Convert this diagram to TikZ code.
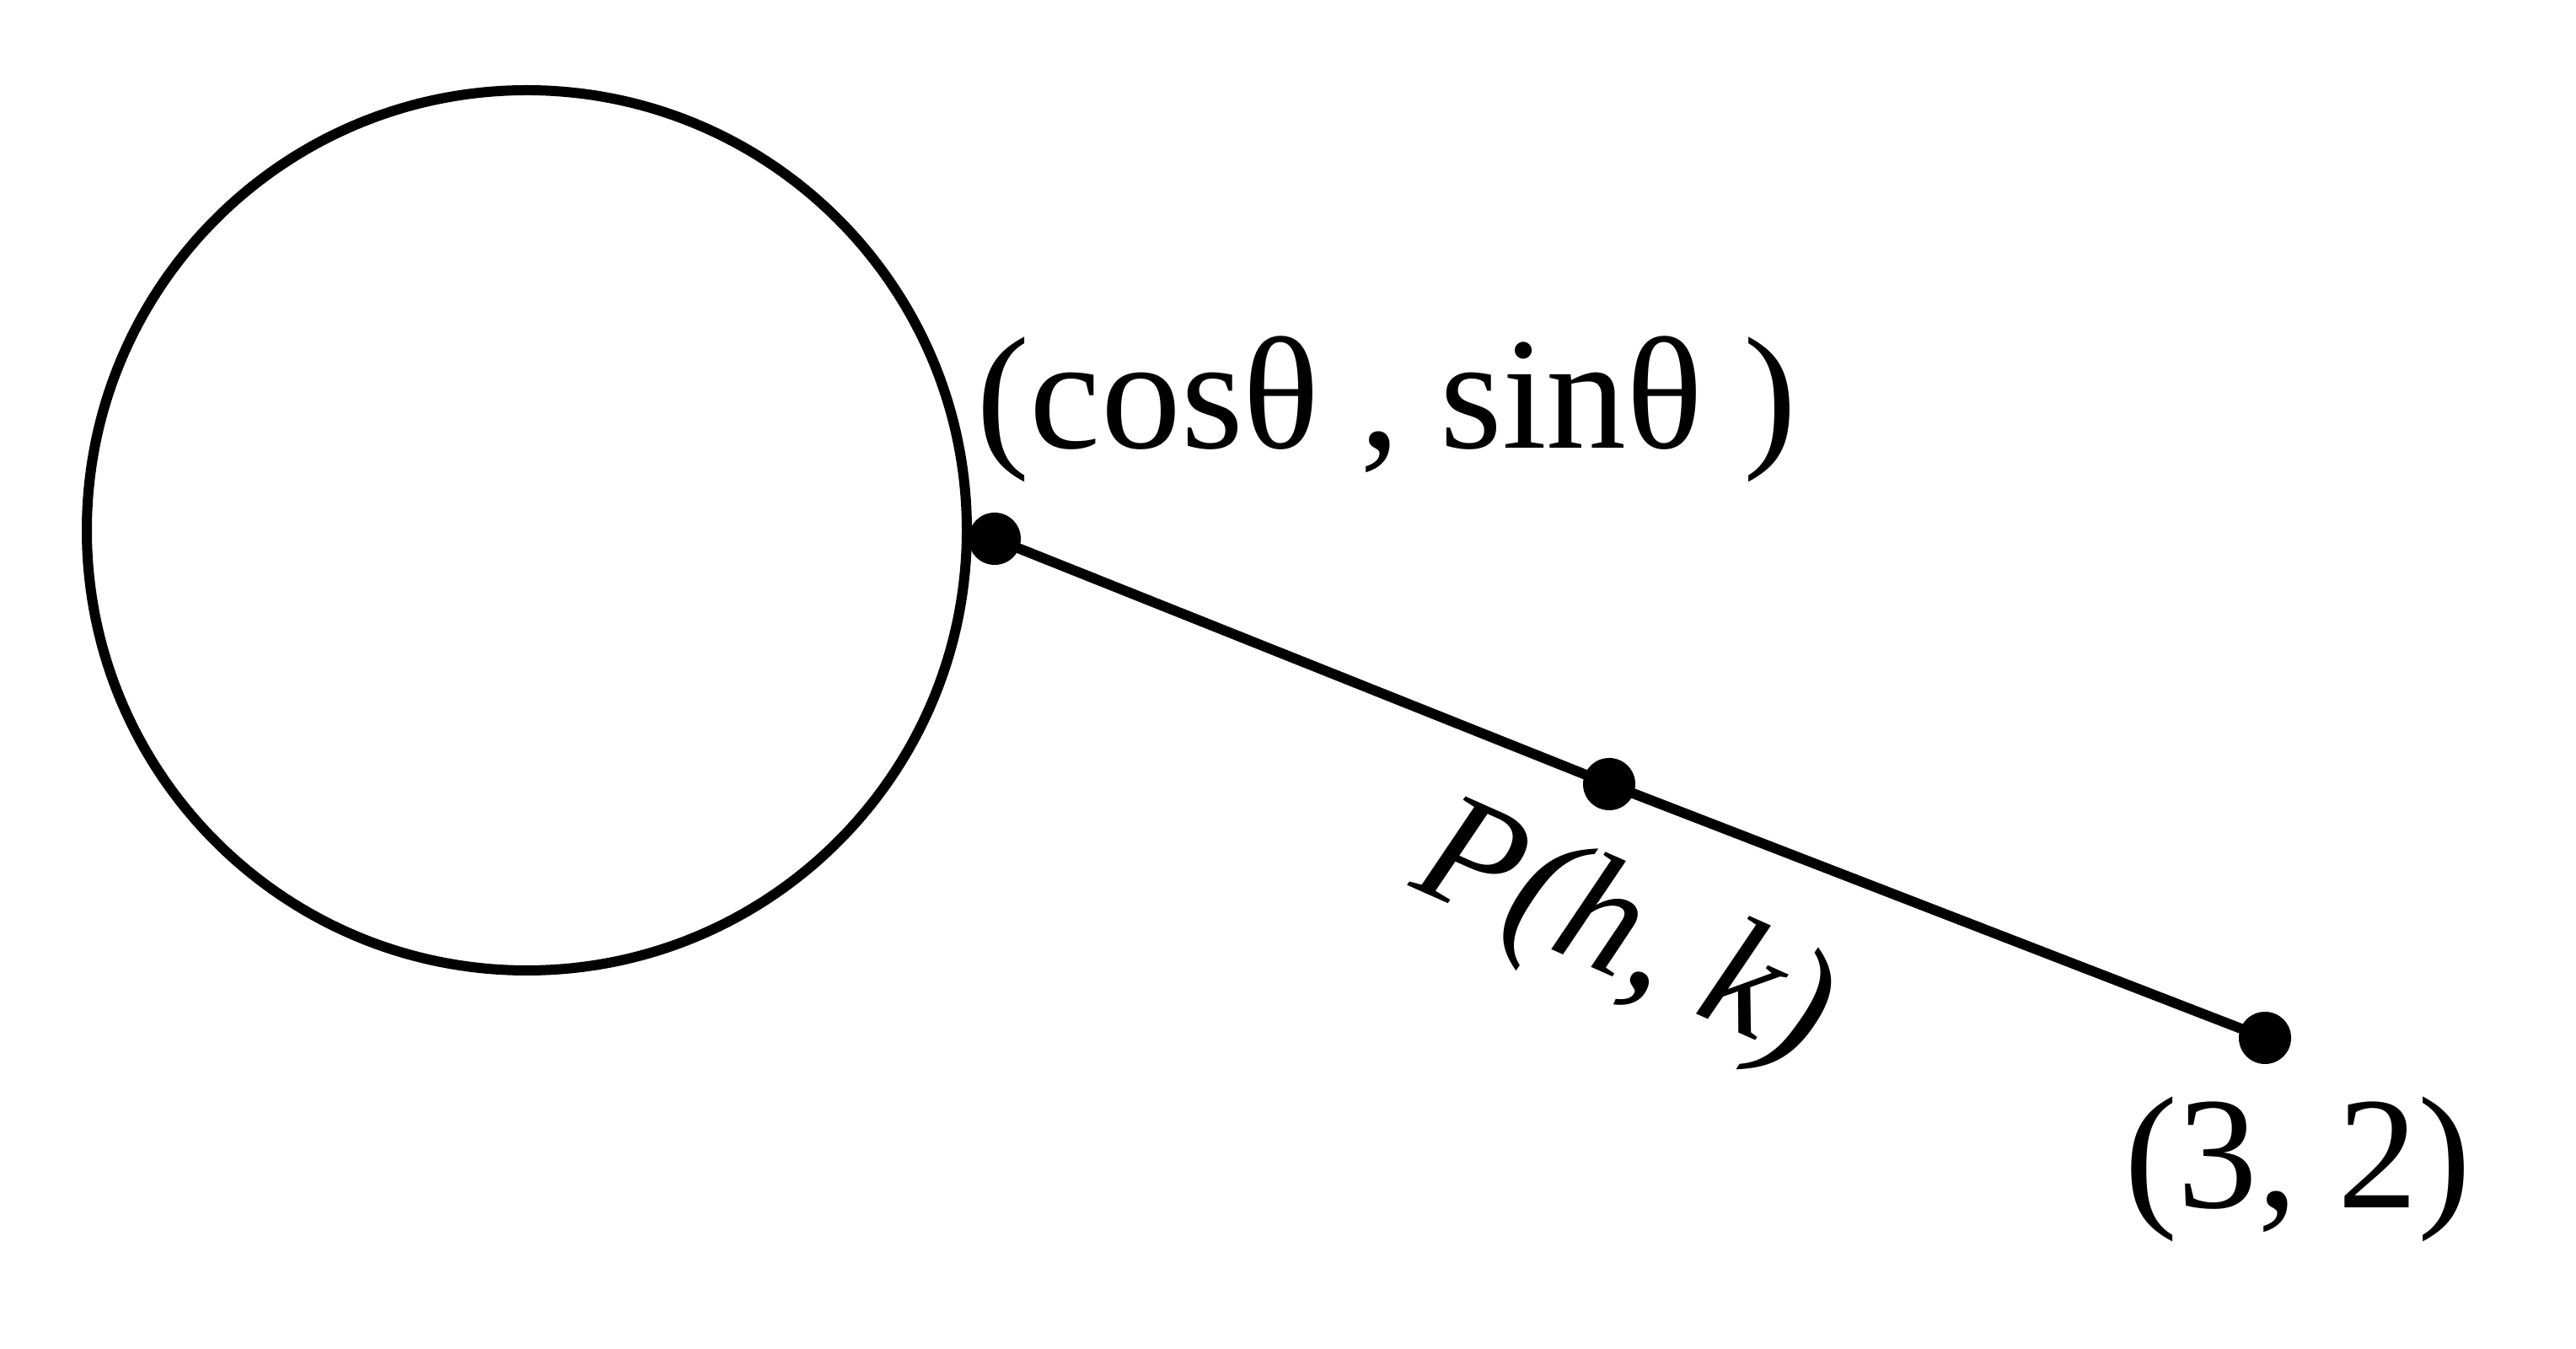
\documentclass[tikz,border=0pt]{standalone}
\usepackage{fontspec}
\setmainfont{Liberation Serif}
\begin{document}
\begin{tikzpicture}[line width=0.12cm,
  dot/.style={circle,fill=black,inner sep=0pt,minimum size=0.62cm},
  lbl/.style={font=\fontsize{54}{62}\selectfont}]
\useasboundingbox (0,0) rectangle (30.56,-16);
\draw (6.25,-6.29) circle (5.22);
\node[dot] (a) at (11.80,-6.39) {};
\node[dot] (p) at (19.09,-9.30) {};
\node[dot] (b) at (26.87,-12.31) {};
\draw (a.center) -- (p.center) -- (b.center);
\node[lbl] (la) at (16.45,-4.85) {(cosθ , sinθ )};
\node[lbl,rotate=-24] (lp) at (19.25,-11.14) {\itshape P(h, k)};
\node[lbl] (lb) at (27.26,-13.87) {(3, 2)};
\end{tikzpicture}
\end{document}
